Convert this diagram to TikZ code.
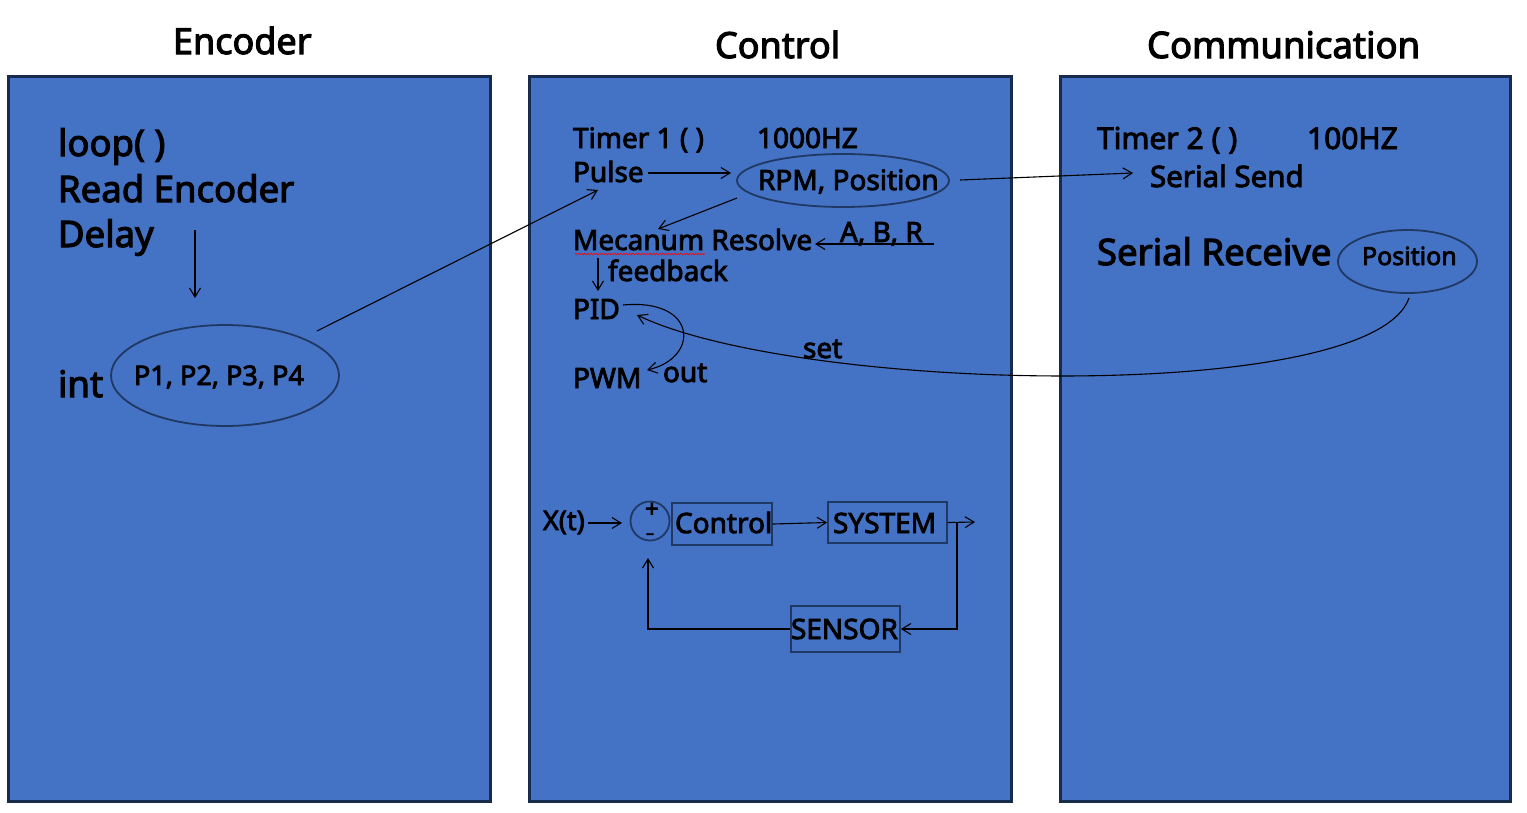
\documentclass[tikz,border=0pt]{standalone}
\usepackage{fontspec}
\setmainfont{Noto Sans}[FakeBold=3]
\usetikzlibrary{arrows.meta,shapes.geometric,decorations.pathmorphing}
\definecolor{panel}{HTML}{4472C4}
\definecolor{panelborder}{HTML}{172B4D}
\definecolor{shapeborder}{HTML}{203864}
\newcommand\fsz[1]{\fontsize{#1}{#1}\selectfont}
\tikzset{
  panelbox/.style={fill=panel,draw=panelborder,line width=2.5pt},
  txt/.style={anchor=base west,inner sep=0pt,outer sep=0pt,text=black},
  oval/.style={ellipse,draw=shapeborder,line width=1.8pt,inner sep=0pt},
  blockbox/.style={rectangle,draw=shapeborder,line width=1.8pt,inner sep=0pt},
  conn/.style={draw=black,line width=1.1pt,-{Straight Barb[length=9pt,width=11pt,line width=1.1pt]}},
  plainconn/.style={draw=black,line width=1.1pt}
}
\begin{document}
\begin{tikzpicture}[x=1pt,y=-1pt]
\useasboundingbox (0,0) rectangle (1527,812);
\fill[white] (0,0) rectangle (1527,812);
% panels
\node[panelbox,rectangle,inner sep=0pt,minimum width=482pt,minimum height=725pt,anchor=north west] (encpanel) at (7,75) {};
\node[panelbox,rectangle,inner sep=0pt,minimum width=482pt,minimum height=725pt,anchor=north west] (ctrlpanel) at (528,75) {};
\node[panelbox,rectangle,inner sep=0pt,minimum width=450pt,minimum height=725pt,anchor=north west] (companel) at (1059,75) {};
% titles
\node[txt,font=\fsz{36}] (tenc) at (173,54) {Encoder};
\node[txt,font=\fsz{36}] (tctrl) at (715,58) {Control};
\node[txt,font=\fsz{36.5}] (tcom) at (1147,58) {Communication};
% encoder panel
\node[txt,font=\fsz{36.5}] (loop) at (58,156) {loop( )};
\node[txt,font=\fsz{36.5}] (readenc) at (58,202) {Read Encoder};
\node[txt,font=\fsz{36.5}] (delay) at (58,247) {Delay};
\node[txt,font=\fsz{36.5}] (int) at (58,397) {int};
\node[oval,minimum width=228pt,minimum height=101pt] (pell) at (225,375.5) {};
\node[txt,font=\fsz{27}] (plabel) at (134,385) {P1, P2, P3, P4};
\coordinate (delayfrom) at (195,230);
\coordinate (delayto) at (195,298);
\draw[conn] (delayfrom) -- (delayto);
% control panel
\node[txt,font=\fsz{28}] (timer1) at (573,148) {Timer 1 ( )};
\node[txt,font=\fsz{28}] (khz) at (757,148) {1000HZ};
\node[txt,font=\fsz{28}] (pulse) at (573,182) {Pulse};
\node[oval,minimum width=212pt,minimum height=53pt] (rpmell) at (843,180.5) {};
\node[txt,font=\fsz{28}] (rpmlabel) at (758,190) {RPM, Position};
\node[txt,font=\fsz{28}] (mecanum) at (573,250) {Mecanum Resolve};
\draw[red,line width=0.6pt,decorate,decoration={snake,amplitude=0.8pt,segment length=3pt}] (575,254) -- (705,254);
\node[txt,font=\fsz{28}] (abr) at (840,242) {A, B, R};
\node[txt,font=\fsz{28}] (feedback) at (608,281) {feedback};
\node[txt,font=\fsz{28}] (pid) at (573,319) {PID};
\node[txt,font=\fsz{28}] (pwm) at (573,388) {PWM};
\node[txt,font=\fsz{28}] (out) at (663,382) {out};
\node[txt,font=\fsz{28}] (set) at (803,358) {set};
% connectors control top
\coordinate (pellout) at (317,331);
\coordinate (pulsein) at (598,190);
\draw[conn] (pellout) -- (pulsein);
\coordinate (pulseout) at (648,173);
\coordinate (rpmin) at (731,173);
\draw[conn] (pulseout) -- (rpmin);
\coordinate (rpmout) at (737,198);
\coordinate (mecin) at (658,229);
\draw[conn] (rpmout) -- (mecin);
\coordinate (abrfrom) at (934,244);
\coordinate (mecright) at (815,244);
\draw[conn] (abrfrom) -- (mecright);
\coordinate (mecdown) at (598,258);
\coordinate (pidup) at (598,291);
\draw[conn] (mecdown) -- (pidup);
\coordinate (pidout) at (623,305);
\coordinate (pwmin) at (647,370);
\draw[conn] (pidout) .. controls (698,298) and (700,358) .. (pwmin);
\coordinate (rpmsend) at (960,180);
\coordinate (sendin) at (1133,173);
\draw[conn] (rpmsend) -- (sendin);
% communication panel
\node[txt,font=\fsz{30}] (timer2) at (1097,149) {Timer 2 ( )};
\node[txt,font=\fsz{30}] (hz) at (1307,149) {100HZ};
\node[txt,font=\fsz{29.5}] (send) at (1150,187) {Serial Send};
\node[txt,font=\fsz{36.5}] (receive) at (1097,265) {Serial Receive};
\node[oval,minimum width=139pt,minimum height=63pt] (posell) at (1407.5,261.5) {};
\node[txt,font=\fsz{25}] (poslabel) at (1362,265) {Position};
\coordinate (posout) at (1409,298);
\coordinate (pidin) at (637,315);
\draw[conn] (posout) .. controls (1372,405) and (800,393) .. (pidin);
% closed loop
\node[txt,font=\fsz{27}] (xt) at (543,530) {X(t)};
\node[circle,draw=shapeborder,line width=1.8pt,minimum size=39pt,inner sep=0pt] (sum) at (650,521) {};
\node[font=\fsz{24},inner sep=0pt] (plus) at (652,510) {+};
\node[font=\fsz{16},inner sep=0pt] (minus) at (650,536) {–};
\node[blockbox,minimum width=100pt,minimum height=42pt] (ctrlbox) at (722,524) {};
\node[txt,font=\fsz{28}] (ctrllabel) at (675,533) {Control};
\node[blockbox,minimum width=119pt,minimum height=41pt] (sysbox) at (887.5,522.5) {};
\node[txt,font=\fsz{28}] (syslabel) at (833,533) {SYSTEM};
\node[blockbox,minimum width=109pt,minimum height=46pt] (senbox) at (845.5,629) {};
\node[txt,font=\fsz{28}] (senlabel) at (791,639) {SENSOR};
\coordinate (xtout) at (588,523);
\coordinate (sumin) at (622,523);
\draw[conn] (xtout) -- (sumin);
\draw[conn] (ctrlbox.east) -- (sysbox.west);
\coordinate (sysout) at (975,522);
\coordinate (branch) at (957,522);
\draw[conn] (sysbox.east) -- (sysout);
\draw[conn] (branch) |- (senbox.east);
\coordinate (sumbelow) at (648,558);
\draw[conn] (senbox.west) -| (sumbelow);
\end{tikzpicture}
\end{document}
